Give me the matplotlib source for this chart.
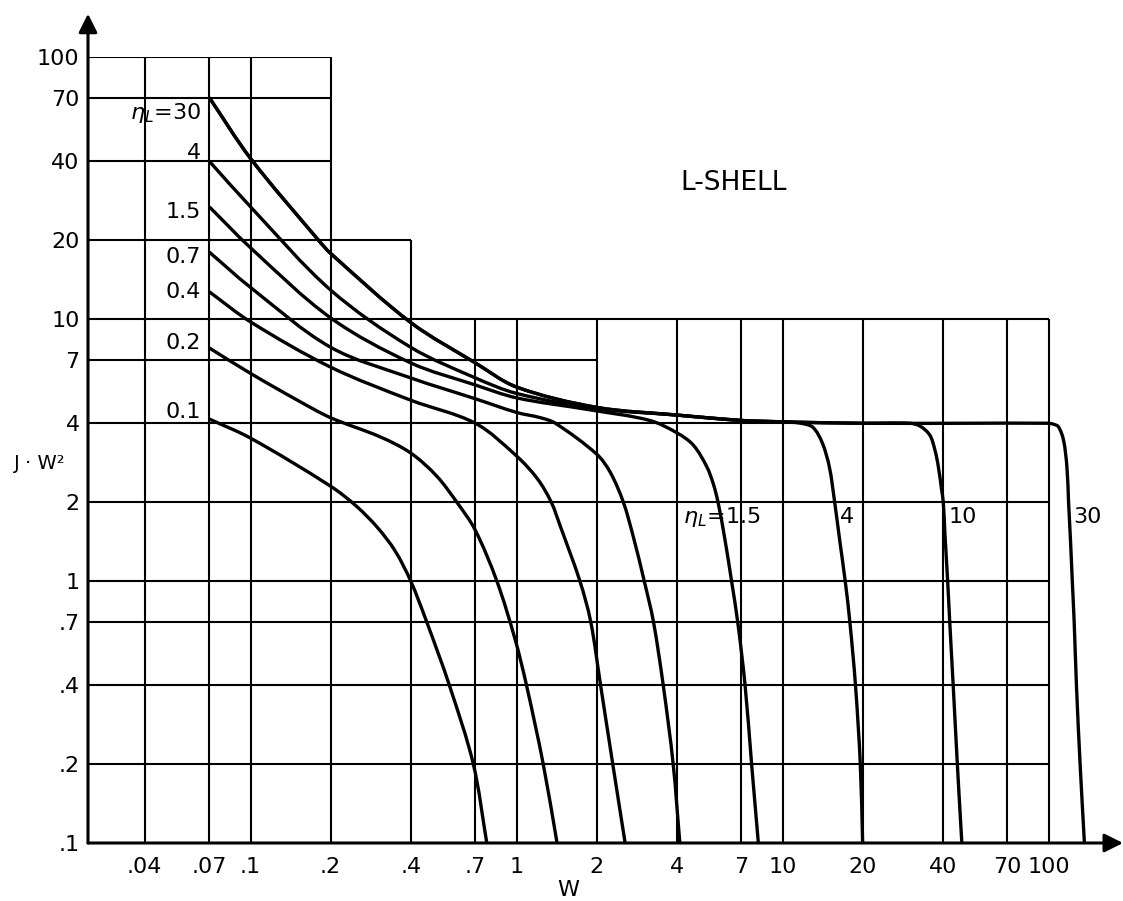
import matplotlib
matplotlib.use("Agg")
import matplotlib.pyplot as plt
import numpy as np
from matplotlib.path import Path
from matplotlib.patches import PathPatch

# ---- data (W, J*W^2) ----
eta_labels = ["0.1", "0.2", "0.4", "0.7", "1.5", "4", "10", "30"]

w_01 = [0.07, 0.1, 0.2, 0.25, 0.3, 0.35, 0.4, 0.459, 0.559, 0.688, 0.773]
j_01 = [4.15, 3.51, 2.3, 1.93, 1.6, 1.3, 1.0, 0.7, 0.4, 0.2, 0.1]

w_02 = [0.07, 0.1, 0.15, 0.2, 0.307, 0.4, 0.5, 0.596, 0.698, 0.843, 0.987, 1.09, 1.26, 1.42]
j_02 = [7.75, 6.2, 4.9, 4.2, 3.55, 3.08, 2.52, 2.0, 1.57, 1.0, 0.6, 0.4, 0.2, 0.1]

w_04 = [0.07, 0.1, 0.2, 0.4, 0.7, 1.0, 1.2, 1.35, 1.46, 1.73, 1.9, 2.07, 2.3, 2.56]
j_04 = [12.7, 9.75, 6.55, 4.9, 4.0, 3.0, 2.45, 2.0, 1.62, 1.0, 0.7, 0.4, 0.2, 0.1]

w_07 = [0.07, 0.1, 0.2, 0.4, 0.7, 1.0, 1.23, 1.4, 2.0, 2.25, 2.52, 2.75, 3.02, 3.27, 3.56, 3.88, 4.11]
j_07 = [18.0, 13.2, 7.8, 5.96, 4.96, 4.4, 4.2, 4.0, 3.05, 2.6, 2.0, 1.47, 1.0, 0.7, 0.4, 0.2, 0.1]

w_15 = [0.07, 0.1, 0.2, 0.4, 0.7, 1.0, 1.89, 3.17, 4.02, 4.62, 5.19, 5.49, 5.72, 6.08, 6.43, 6.78, 7.23, 7.65, 8.11]
j_15 = [26.8, 18.7, 10.1, 6.8, 5.6, 5.0, 4.5, 4.1, 3.67, 3.3, 2.73, 2.35, 2.0, 1.43, 1.0, 0.7, 0.4, 0.2, 0.1]

w_4 = [0.07, 0.1, 0.2, 0.4, 0.7, 1.0, 2.0, 4.0, 7.0, 10, 11.7, 13.0, 14.1, 15.0, 15.7, 16.4, 17.2, 17.9, 18.8, 19.6, 20.0]
j_4 = [40, 26.8, 12.9, 7.8, 5.96, 5.2, 4.55, 4.3, 4.1, 4.05, 4.0, 3.86, 3.37, 2.72, 2.0, 1.43, 1.0, 0.7, 0.4, 0.2, 0.1]

w_10 = [0.07, 0.1, 0.18, 0.2, 0.4, 0.7, 1.0, 2.0, 4.0, 7.0, 10, 20, 30.1, 32.9, 35.8, 37.4, 38.5, 39.6,
        40.2, 40.75, 41.75, 42.5, 43.8, 45.4, 47.2]
j_10 = [70, 41, 20, 17.8, 9.7, 6.8, 5.5, 4.6, 4.3, 4.1, 4.05, 4.0, 4.0, 3.9, 3.6, 3.16, 2.74, 2.24,
        2.0, 1.53, 1.0, 0.7, 0.4, 0.2, 0.1]

w_30 = [0.07, 0.1, 0.18, 0.2, 0.4, 0.7, 1.0, 2.0, 4.0, 7.0, 10, 20, 50, 99, 104, 108.9, 113.8, 117.2,
        118.9, 120.9, 122.8, 124.8, 127.3, 131.4, 136.4]
j_30 = [70, 41, 20, 17.8, 9.7, 6.8, 5.5, 4.6, 4.3, 4.1, 4.05, 4.0, 4.0, 4.0, 3.97, 3.88, 3.45, 2.73,
        2.0, 1.43, 1.0, 0.7, 0.4, 0.2, 0.1]

curves = [(w_01, j_01), (w_02, j_02), (w_04, j_04), (w_07, j_07),
          (w_15, j_15), (w_4, j_4), (w_10, j_10), (w_30, j_30)]

x_ticks = [0.04, 0.07, 0.1, 0.2, 0.4, 0.7, 1, 2, 4, 7, 10, 20, 40, 70, 100]
x_tick_labels = [".04", ".07", ".1", ".2", ".4", ".7", "1", "2", "4", "7", "10", "20", "40", "70", "100"]
y_ticks = [0.1, 0.2, 0.4, 0.7, 1, 2, 4, 7, 10, 20, 40, 70, 100]
y_tick_labels = [".1", ".2", ".4", ".7", "1", "2", "4", "7", "10", "20", "40", "70", "100"]

# ---- grid layout (the chart's stepped grid) ----
X_MIN, X_MAX = 0.02449, 170.2
Y_MIN, Y_MAX = 0.1, 100
h_grid = [(100, 0.2), (70, 0.2), (40, 0.2), (20, 0.4), (10, 100), (7, 2),
          (4, 100), (2, 100), (1, 100), (0.7, 100), (0.4, 100), (0.2, 100)]
v_grid = [(0.04, 100), (0.07, 100), (0.1, 100), (0.2, 100), (0.4, 20), (0.7, 10),
          (1, 10), (2, 10), (4, 10), (7, 10), (10, 10), (20, 10), (40, 10), (70, 10), (100, 10)]


def smooth_path(w, j):
    # hand-drawn look: cubic Hermite through the read points, built in log space
    p = np.log10(np.column_stack([w, j]))
    d = np.hypot(*np.diff(p, axis=0).T)
    t = np.concatenate([[0], np.cumsum(d)])
    tang = np.empty_like(p)
    tang[0] = (p[1] - p[0]) / (t[1] - t[0])
    tang[-1] = (p[-1] - p[-2]) / (t[-1] - t[-2])
    for i in range(1, len(p) - 1):
        tang[i] = (p[i + 1] - p[i - 1]) / (t[i + 1] - t[i - 1])
    verts = [p[0]]
    codes = [Path.MOVETO]
    for i in range(len(p) - 1):
        h = t[i + 1] - t[i]
        verts += [p[i] + tang[i] * h / 3, p[i + 1] - tang[i + 1] * h / 3, p[i + 1]]
        codes += [Path.CURVE4] * 3
    return Path(10 ** np.array(verts), codes)


fig = plt.figure(figsize=(11.23, 9.01), dpi=100)
ax = fig.add_axes([88 / 1123, 58 / 901, 1022 / 1123, 786 / 901])
ax.set_xscale("log")
ax.set_yscale("log")
ax.set_xlim(X_MIN, X_MAX)
ax.set_ylim(Y_MIN, Y_MAX)
for s in ax.spines.values():
    s.set_visible(False)

for y, xr in h_grid:
    ax.plot([X_MIN, xr], [y, y], color="black", lw=1.5, solid_capstyle="butt")
for x, yt in v_grid:
    ax.plot([x, x], [Y_MIN, yt], color="black", lw=1.5, solid_capstyle="butt")

for w, j in curves:
    ax.add_patch(PathPatch(smooth_path(w, j), fill=False, edgecolor="black", lw=2.4,
                           capstyle="butt", joinstyle="round"))

# axes with arrows
ax.annotate("", xy=(0, 1.055), xytext=(0, 0), xycoords="axes fraction",
            arrowprops=dict(arrowstyle="-|>", lw=2.2, color="black", mutation_scale=28,
                            shrinkA=0, shrinkB=0), annotation_clip=False)
ax.annotate("", xy=(1.0127, 0), xytext=(0, 0), xycoords="axes fraction",
            arrowprops=dict(arrowstyle="-|>", lw=2.2, color="black", mutation_scale=28,
                            shrinkA=0, shrinkB=0), annotation_clip=False)

ax.minorticks_off()
ax.set_xticks(x_ticks)
ax.set_xticklabels(x_tick_labels)
ax.set_yticks(y_ticks)
ax.set_yticklabels(y_tick_labels)
ax.tick_params(axis="both", length=0, labelsize=16)
ax.tick_params(axis="x", pad=10)
ax.tick_params(axis="y", pad=6)

# curve labels, left side
left_y = [61, 43, 25.6, 17.2, 12.7, 8.1, 4.4]
left_txt = [r"$\eta_L$=30", "4", "1.5", "0.7", "0.4", "0.2", "0.1"]
for yv, t in zip(left_y, left_txt):
    ax.text(0.065, yv, t, ha="right", va="center", fontsize=16)

# curve labels, right side
ax.text(4.23, 1.75, r"$\eta_L$=1.5", ha="left", va="center", fontsize=16)
ax.text(16.4, 1.75, "4", ha="left", va="center", fontsize=16)
ax.text(41.9, 1.75, "10", ha="left", va="center", fontsize=16)
ax.text(123.6, 1.75, "30", ha="left", va="center", fontsize=16)

ax.text(4.12, 33, "L-SHELL", ha="left", va="center", fontsize=19)

fig.text(40 / 1123, 1 - 463 / 901, "J · W²", ha="center", va="center", fontsize=14)
fig.text(568 / 1123, 1 - 890 / 901, "W", ha="center", va="center", fontsize=16)

fig.savefig("out.png", dpi=100)
